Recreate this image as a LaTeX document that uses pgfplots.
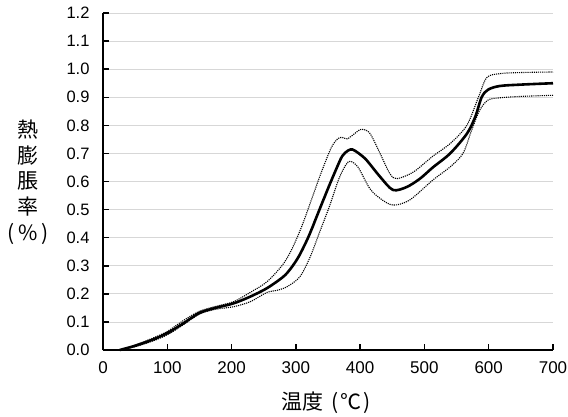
\documentclass[border=0pt]{standalone}
\usepackage{pgfplots}
\pgfplotsset{compat=1.18}
\usepackage{fontspec}
\setmainfont{Liberation Sans}
\newfontfamily\jp{Noto Sans CJK JP}
\definecolor{gridgray}{RGB}{215,215,215}
\begin{document}
\begin{tikzpicture}
\path[use as bounding box] (-103pt,-66pt) rectangle (465pt,350pt);
\begin{axis}[
  scale only axis, width=450pt, height=337pt,
  at={(0pt,0pt)}, anchor=origin,
  xmin=0, xmax=700, ymin=0, ymax=1.2,
  axis x line=bottom, axis y line=left,
  axis line style={-, line width=2pt, black},
  xtick={0,100,...,700},
  ytick={0,0.1,...,1.2},
  tick align=inside,
  major tick length=6pt,
  tick style={black, line width=1.5pt},
  ymajorgrids,
  grid style={gridgray, line width=0.8pt},
  /pgf/number format/assume math mode=true,
  yticklabel style={/pgf/number format/.cd, fixed, fixed zerofill, precision=1, /tikz/.cd, font=\fontsize{16.5}{16.5}\selectfont, xshift=-10pt},
  xticklabel style={font=\fontsize{17}{17}\selectfont, yshift=-8pt},
  scaled y ticks=false,
  clip=false,
]
\addplot[black, line width=1.1pt, densely dotted, smooth, tension=0.5] coordinates {
(26,0) (50,0.018) (75,0.04) (100,0.066) (125,0.105) (150,0.138) (175,0.155) (203,0.172) (229,0.205) (255,0.243) (280,0.305) (295,0.365) (310,0.445) (325,0.54) (340,0.635) (355,0.72) (365,0.752) (372,0.757) (380,0.752) (390,0.768) (402,0.786) (415,0.772) (431,0.70) (446,0.629) (457,0.61) (483,0.634) (513,0.69) (540,0.735) (566,0.80) (584,0.90) (597,0.97) (617,0.984) (650,0.988) (700,0.99)
};
\addplot[black, line width=1.1pt, densely dotted, smooth, tension=0.5] coordinates {
(26,0) (50,0.012) (75,0.03) (100,0.054) (125,0.09) (150,0.128) (175,0.145) (203,0.154) (229,0.172) (255,0.205) (270,0.212) (286,0.225) (306,0.26) (322,0.33) (337,0.42) (352,0.51) (367,0.61) (378,0.66) (385,0.672) (397,0.65) (415,0.575) (431,0.54) (451,0.516) (477,0.534) (513,0.605) (540,0.652) (560,0.70) (573,0.78) (586,0.854) (599,0.89) (617,0.898) (650,0.903) (700,0.907)
};
\addplot[black, line width=2.6pt, smooth, tension=0.5] coordinates {
(26,0) (50,0.015) (75,0.035) (100,0.06) (125,0.095) (150,0.132) (175,0.15) (203,0.166) (229,0.19) (255,0.22) (280,0.26) (292,0.29) (305,0.335) (320,0.405) (335,0.49) (350,0.575) (362,0.64) (372,0.69) (381,0.71) (388,0.714) (398,0.70) (410,0.676) (431,0.617) (451,0.57) (472,0.58) (493,0.61) (513,0.65) (540,0.70) (566,0.77) (579,0.83) (589,0.90) (599,0.927) (617,0.94) (650,0.945) (700,0.95)
};
\end{axis}
\node[align=center, font=\jp\fontsize{21}{25.7}\selectfont] at (-75pt,168pt) {熱\\膨\\脹\\率\\(\,\%\,)};
\node[font=\jp\fontsize{21}{21}\selectfont] at (223pt,-53pt) {温度\hspace{0.4em}(\hspace{0.1em}℃\hspace{0.1em})};
\end{tikzpicture}
\end{document}
